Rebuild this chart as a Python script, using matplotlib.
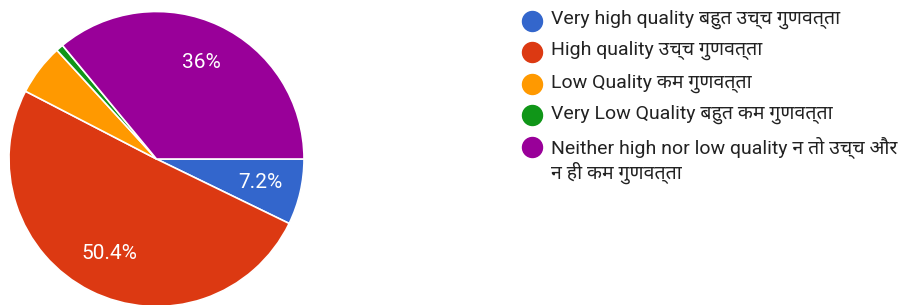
import matplotlib
matplotlib.use("Agg")
import matplotlib.pyplot as plt
from matplotlib import font_manager
from fontTools.ttLib import TTFont

labels = [
    "Very high quality बहुत उच्च गुणवत्ता",
    "High quality उच्च गुणवत्ता",
    "Low Quality कम गुणवत्ता",
    "Very Low Quality बहुत कम गुणवत्ता",
    "Neither high nor low quality न तो उच्च और\nन ही कम गुणवत्ता",
]
shares = [7.2, 50.4, 5.6, 0.8, 36.0]
colors = ["#3366cc", "#dc3912", "#ff9900", "#109618", "#990099"]


# pick an installed font that has Devanagari glyphs
def find_devanagari():
    names = set()
    for f in font_manager.fontManager.ttflist:
        try:
            cmap = TTFont(f.fname, fontNumber=0, lazy=True).getBestCmap()
            if cmap and 0x0915 in cmap and 0x0917 in cmap:
                names.add(f.name)
        except Exception:
            pass
    for pref in ["Noto Sans Devanagari", "Noto Sans Devanagari UI", "Mukta", "Hind", "Lohit Devanagari"]:
        if pref in names:
            return [pref]
    return sorted(names)[:1]


families = ["Roboto"] + find_devanagari() + ["DejaVu Sans"]

fig = plt.figure(figsize=(9.08, 3.05), dpi=100)
W, H = 908, 305

# pie axes: centre (156.5, 159) px, radius 147.5 px
cx, cy, r = 156.5, 159, 147.5
ax = fig.add_axes([(cx - r) / W, (H - cy - r) / H, 2 * r / W, 2 * r / H])


def fmt(pct):
    if pct < 6:
        return ""
    return f"{pct:.1f}".rstrip("0").rstrip(".") + "%"


ax.pie(
    shares, colors=colors, startangle=0, counterclock=False,
    autopct=fmt, pctdistance=0.72,
    wedgeprops=dict(edgecolor="white", linewidth=1.2),
    textprops=dict(color="white", fontsize=15, family=["Roboto", "DejaVu Sans"]),
)
ax.set_xlim(-1, 1)
ax.set_ylim(-1, 1)
ax.set_aspect("equal")
ax.axis("off")

# legend on an overlay axes in pixel coordinates
lg = fig.add_axes([0, 0, 1, 1], facecolor="none")
lg.set_xlim(0, W)
lg.set_ylim(H, 0)
lg.axis("off")
row_y = [20.7, 51.7, 84, 115, 146.7]
for lab, col, y in zip(labels, colors, row_y):
    lg.plot(531.7, y, "o", color=col, markersize=14.4)
    lg.text(550.7, y - 10.5, lab, ha="left", va="top",
            fontsize=14, color="#222222", family=families, linespacing=1.2)

fig.savefig("out.png", dpi=100)
